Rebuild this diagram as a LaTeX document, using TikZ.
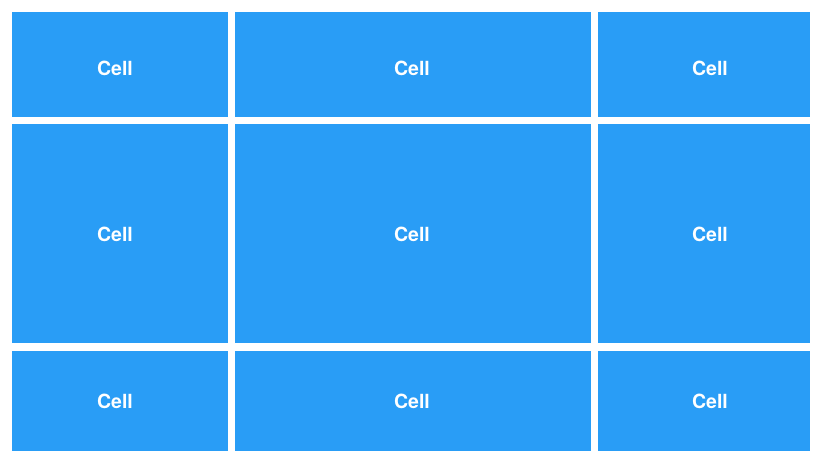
\documentclass[tikz,border=0pt]{standalone}
\usepackage{fontspec}
\setmainfont{TeX Gyre Heros}
\definecolor{cellblue}{RGB}{41,157,246}
\tikzset{
  cellbox/.style={fill=cellblue, draw=none, inner sep=0pt, outer sep=0pt},
  celltext/.style={text=white, font=\bfseries\fontsize{19.5}{22}\selectfont, inner sep=0pt}
}
\begin{document}
\begin{tikzpicture}[x=1pt,y=-1pt]
\useasboundingbox (0,0) rectangle (823,465);
\fill[white] (0,0) rectangle (823,465);
% columns: 12-228, 235-591, 598-810 ; rows: 12-117, 124-343, 351-451
\foreach \r/\ya/\yb/\ty in {1/12/117/68, 2/124/343/234, 3/351/451/401}{
  \foreach \c/\xa/\xb/\tx in {1/12/228/115, 2/235/591/412, 3/598/810/710}{
    \path[cellbox] (\xa,\ya) rectangle (\xb,\yb);
    \node[celltext] (t\r\c) at (\tx,\ty) {Cell};
  }
}
\end{tikzpicture}
\end{document}
